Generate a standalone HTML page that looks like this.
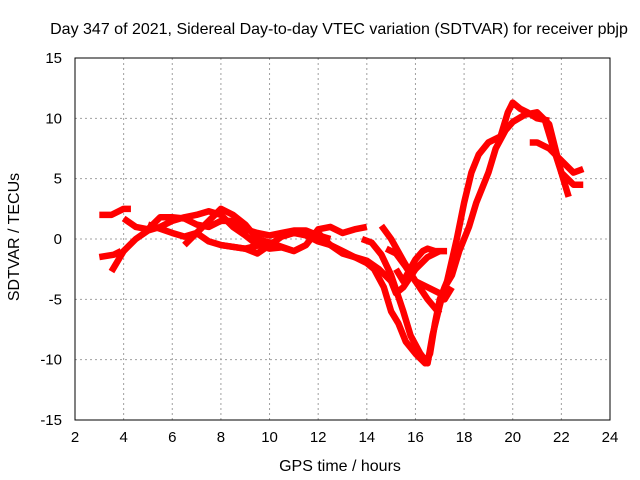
<!DOCTYPE html>
<html><head><meta charset="utf-8"><style>
body{margin:0;background:#fff}
svg{display:block;font-family:"Liberation Sans",sans-serif}
</style></head><body>
<svg id="chart" width="640" height="480">
<text x="339" y="34" font-size="16" text-anchor="middle">Day 347 of 2021, Sidereal Day-to-day VTEC variation (SDTVAR) for receiver pbjp</text>
<text x="340" y="471" font-size="16" text-anchor="middle">GPS time / hours</text>
<text transform="translate(19,237) rotate(-90)" font-size="16" text-anchor="middle">SDTVAR / TECUs</text>
<g id="grid"></g><g id="series"></g>
<rect x="75" y="58" width="535" height="362" fill="none" stroke="#000"/>
</svg>
<script>
const xTicks=[2,4,6,8,10,12,14,16,18,20,22,24];
const yTicks=[-15,-10,-5,0,5,10,15];
const trackA=[[3.0,-1.5],[3.6,-1.3],[3.9,-1.0]];
const trackA2=[[3.0,2.0],[3.5,2.0],[4.0,2.5],[4.3,2.5]];
const trackB=[[3.5,-2.7],[4,-1],[4.5,0],[5,0.7],[5.5,1.0],[6,1.5],[6.5,1.8],[7,2.0],[7.5,2.3],[8,2.0],[8.5,1.0],[9,0.3],[9.5,-0.5],[10,-0.8],[10.5,-0.7],[11,-1.0]];
const trackC=[[4,1.7],[4.5,1.0],[5,0.8],[5.5,1.8],[6,1.8],[6.5,1.7],[7,1.2],[7.5,1.0],[8,1.5],[8.5,1.5],[9,0.8],[9.5,0.5],[10,0.3],[10.5,0.5],[11,0.7],[11.5,0.7],[12,0.3],[12.5,0.0]];
const trackD=[[5,1.2],[6,0.5],[6.5,0.2],[7,0.5],[7.5,1.5],[8,2.5],[8.5,2.0],[9,1.2],[9.5,0],[10,-0.3]];
const trackE=[[6.5,-0.5],[7,0.5],[7.5,-0.2],[8,-0.5],[9,-0.8],[9.5,-1.2],[10,-0.5],[10.5,0.2],[11,0.5],[11.5,0.3],[12,-0.2],[12.5,-0.5],[13,-1.0],[13.5,-1.5],[14,-1.8],[14.5,-2.5],[15,-3.5],[15.2,-4.5],[15.5,-4],[16,-2.5],[16.5,-1.5],[17,-1.0]];
const trackF=[[8,-0.5],[9,-0.8],[10,-0.3],[11,-1.0],[11.5,-0.5],[12,0.8],[12.5,1.0],[13,0.5],[13.5,0.8],[14,1.0]];
const trackG=[[12,0.5],[12.5,-0.5],[13,-1.2],[13.5,-1.5],[14,-2],[14.3,-2.5],[14.7,-4],[15,-6],[15.3,-7],[15.6,-8.5],[16,-9.5],[16.4,-10.3],[16.6,-9.5],[16.8,-7],[17,-5],[17.3,-3.5],[17.7,0],[18,3],[18.3,5.5],[18.6,7],[19,8],[19.5,8.5],[19.8,10.5],[20,11.3],[20.3,10.8],[20.6,10.5],[21,10.0],[21.5,9.8]];
const trackH=[[13.8,0],[14.2,-0.3],[14.6,-1.3],[15,-3.0],[15.5,-6],[15.8,-8],[16.2,-9.5],[16.5,-10.3],[16.7,-8],[17,-5.5],[17.2,-4],[17.5,-3],[17.8,-1],[18.2,1],[18.5,3],[19,5.5],[19.3,7.5],[19.7,9],[20,9.7],[20.5,10.3],[21,10.5],[21.5,9.5],[22,5.5],[22.3,3.5]];
const trackI=[[15.2,-2.5],[15.5,-3.5],[16,-1.7],[16.3,-1.0],[16.5,-0.8],[16.8,-1.0],[17.3,-1.0]];
const trackJ=[[14.8,-0.8],[15.2,-1.2],[15.6,-2.3],[16,-3.5],[16.5,-4.0],[17,-4.5],[17.2,-5.0],[17.5,-4.0]];
const trackK=[[14.6,1.1],[15,0],[15.5,-1.8],[16,-3.5],[16.5,-5],[17,-6.2]];
const trackL=[[20.7,8],[21,8],[21.5,7.5],[22,6.5],[22.5,5.5],[22.9,5.8]];
const trackM=[[21.3,10],[21.6,8],[22,5.5],[22.5,4.5],[22.9,4.5]];
const tracks=[trackA,trackA2,trackB,trackC,trackD,trackE,trackF,trackG,trackH,trackI,trackJ,trackK,trackL,trackM];
const X=h=>75+(h-2)*535/22, Y=v=>239-v*362/30;
const NS="http://www.w3.org/2000/svg";
const grid=document.getElementById('grid'), ser=document.getElementById('series');
xTicks.forEach(t=>{
  if(t>2&&t<24){const l=document.createElementNS(NS,'line');
  
  
  l.setAttribute('x1',X(t));l.setAttribute('x2',X(t));l.setAttribute('y1',58);l.setAttribute('y2',420);
  l.setAttribute('stroke','#a0a0a0');l.setAttribute('stroke-dasharray','2,3');grid.appendChild(l);}
  const tx=document.createElementNS(NS,'text');
  
  
  tx.setAttribute('x',X(t));tx.setAttribute('y',442);tx.setAttribute('font-size','15');tx.setAttribute('text-anchor','middle');
  tx.textContent=t;grid.appendChild(tx);
});
yTicks.forEach(t=>{
  if(t>-15&&t<15){const l=document.createElementNS(NS,'line');
  
  
  l.setAttribute('x1',75);l.setAttribute('x2',610);l.setAttribute('y1',Y(t));l.setAttribute('y2',Y(t));
  l.setAttribute('stroke','#a0a0a0');l.setAttribute('stroke-dasharray','2,3');grid.appendChild(l);}
  const tx=document.createElementNS(NS,'text');
  
  
  tx.setAttribute('x',62);tx.setAttribute('y',Y(t)+5);tx.setAttribute('font-size','15');tx.setAttribute('text-anchor','end');
  tx.textContent=t;grid.appendChild(tx);
});
tracks.forEach(tr=>{
  const p=document.createElementNS(NS,'polyline');
  
  
  p.setAttribute('points',tr.map(d=>X(d[0])+','+Y(d[1])).join(' '));
  p.setAttribute('fill','none');p.setAttribute('stroke','#ff0000');p.setAttribute('stroke-width','6.5');
  p.setAttribute('stroke-linejoin','round');
  ser.appendChild(p);
});
</script>
</body></html>
